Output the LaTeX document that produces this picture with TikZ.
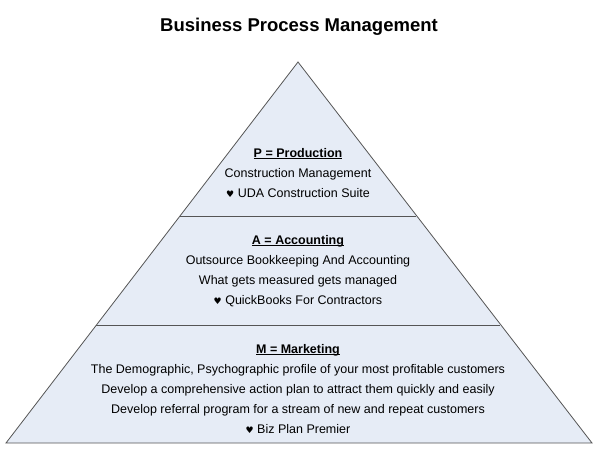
\documentclass[tikz,border=0pt]{standalone}
\usepackage{fontspec}
\setmainfont{Liberation Sans}
\newfontfamily\simbolo{DejaVu Sans}
\usetikzlibrary{positioning}
\definecolor{riempimento}{HTML}{E6ECF6}
\definecolor{bordo}{HTML}{555555}
\newcommand{\cuore}{{\simbolo\fontsize{9}{10}\selectfont\char"2665}}
\newsavebox{\scatola}
\newcommand{\sottolinea}[1]{\sbox{\scatola}{#1}\rlap{\rule[-2.2pt]{\wd\scatola}{0.8pt}}\usebox{\scatola}}

\begin{document}
\begin{tikzpicture}[x=1pt, y=-1pt,
	riga/.style={font=\fontsize{12.5}{15}\selectfont, inner sep=0pt, anchor=base},
	intestazione/.style={font=\fontsize{12.5}{15}\selectfont\bfseries, inner sep=0pt, anchor=base}]
	\useasboundingbox (0,0) rectangle (600,460);
	
	% Titolo
	\node[font=\fontsize{18.5}{22}\selectfont\bfseries, inner sep=0pt, anchor=base] (titolo) at (299, 32) {Business Process Management};
	
	% Piramide e divisori
	\coordinate (vertice) at (298, 62);
	\coordinate (basesx) at (6, 443);
	\coordinate (basedx) at (592, 443);
	\coordinate (div1sx) at (179.6, 216);
	\coordinate (div1dx) at (416.4, 216);
	\coordinate (div2sx) at (96, 325);
	\coordinate (div2dx) at (500, 325);
	\draw[bordo, line width=0.8pt, fill=riempimento] (vertice) -- (basedx) -- (basesx) -- cycle;
	\draw[bordo, line width=0.8pt] (div1sx) -- (div1dx);
	\draw[bordo, line width=0.8pt] (div2sx) -- (div2dx);
	
	% Livello P
	\node[intestazione] (prod) at (298, 157) {\sottolinea{P = Production}};
	\node[riga] (prod1) at (298, 177) {Construction Management};
	\node[riga] (prod2) at (298, 197) {\cuore{} UDA Construction Suite};
	
	% Livello A
	\node[intestazione] (acc) at (298, 244) {\sottolinea{A = Accounting}};
	\node[riga] (acc1) at (298, 264) {Outsource Bookkeeping And Accounting};
	\node[riga] (acc2) at (298, 284) {What gets measured gets managed};
	\node[riga] (acc3) at (298, 304) {\cuore{} QuickBooks For Contractors};
	
	% Livello M
	\node[intestazione] (mark) at (298, 353) {\sottolinea{M = Marketing}};
	\node[riga] (mark1) at (298, 373) {The Demographic, Psychographic profile of your most profitable customers};
	\node[riga] (mark2) at (298, 393) {Develop a comprehensive action plan to attract them quickly and easily};
	\node[riga] (mark3) at (298, 413) {Develop referral program for a stream of new and repeat customers};
	\node[riga] (mark4) at (298, 433) {\cuore{} Biz Plan Premier};
\end{tikzpicture}
\end{document}
